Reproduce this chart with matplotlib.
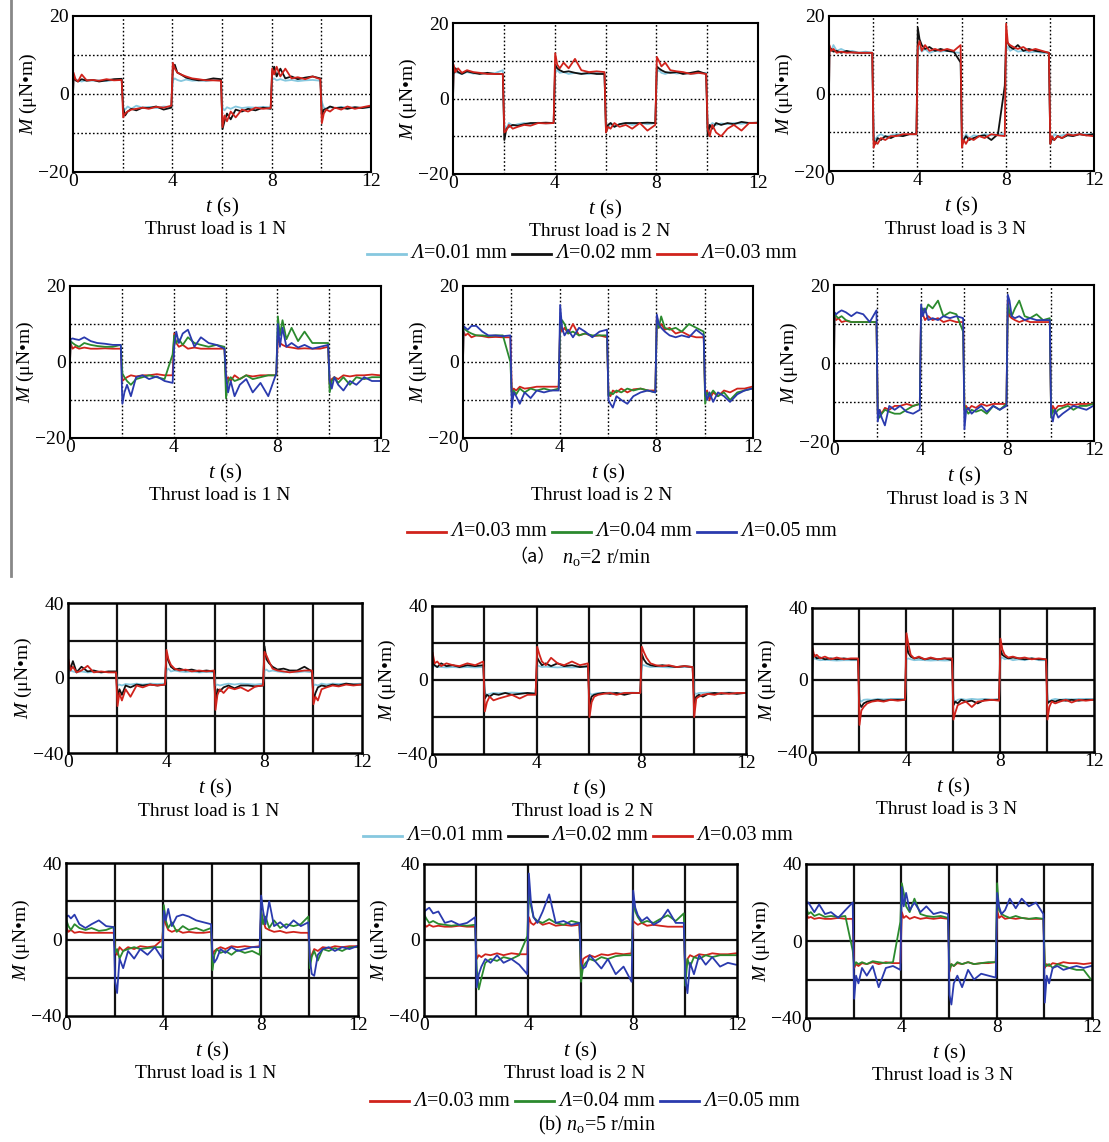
import matplotlib
matplotlib.use("Agg")
import matplotlib.pyplot as plt
from matplotlib.lines import Line2D
from matplotlib.offsetbox import AnchoredOffsetbox, DrawingArea, HPacker, TextArea

plt.rcParams["font.family"] = ["Liberation Serif", "Noto Sans CJK SC", "DejaVu Sans"]
plt.rcParams["mathtext.fontset"] = "custom"
plt.rcParams["mathtext.rm"] = "Liberation Serif"
plt.rcParams["mathtext.it"] = "Liberation Serif:italic"

W, H = 1109, 1142

# sample times inside each 2 s half-period of the square wave
OFFSETS = [0.02, 0.1, 0.2, 0.35, 0.55, 0.8, 1.05, 1.35, 1.65, 1.96]
T = [2 * k + o for k in range(6) for o in OFFSETS]

X_TICKS = [0, 4, 8, 12]
X_GRID = [2, 4, 6, 8, 10]
TOP_Y_TICKS = [-20, 0, 20]
TOP_Y_GRID = [-10, 0, 10]
BOT_Y_TICKS = [-40, 0, 40]
BOT_Y_GRID = [-20, 0, 20]
LOADS = ["Thrust load is 1 N", "Thrust load is 2 N", "Thrust load is 3 N"]
GAPS_TOP = ["0.01", "0.02", "0.03"]
GAPS_LOW = ["0.03", "0.04", "0.05"]

# ---- (a) n_o = 2 r/min, row 1: gaps 0.01 / 0.02 / 0.03 mm ----
R1P1_L01 = [3.5, 3.8, 3.5, 3.2, 3.6, 3.4, 3.5, 3.3, 3.6, 3.9,
            -3.5, -4.0, -3.2, -3.8, -3.0, -3.5, -3.3, -3.6, -3.2, -3.4,
            3.5, 4.0, 3.6, 3.3, 3.7, 3.4, 3.5, 3.3, 3.6, 3.5,
            -3.5, -4.2, -3.4, -3.8, -3.2, -3.6, -3.4, -3.5, -3.3, -3.4,
            3.6, 4.0, 3.5, 3.8, 3.4, 3.6, 3.3, 3.5, 3.6, 3.4,
            -2.0, -3.5, -3.8, -3.4, -3.6, -3.3, -3.5, -3.4, -3.6, -3.4]
R1P1_L02 = [4.5, 3.5, 3.2, 3.8, 3.4, 3.6, 3.2, 3.5, 3.8, 3.9,
            -3.5, -5.5, -4.5, -3.8, -4.2, -3.5, -3.6, -3.2, -4.0, -3.5,
            6.5, 7.5, 5.5, 5.0, 4.2, 3.8, 3.5, 3.6, 4.0, 3.8,
            -9.0, -7.0, -5.0, -6.5, -4.0, -4.5, -3.8, -4.2, -3.5, -3.8,
            5.5, 7.0, 4.5, 6.5, 4.0, 4.5, 3.8, 4.2, 4.5, 4.0,
            -5.5, -4.0, -3.8, -3.2, -3.6, -3.5, -3.8, -3.4, -3.6, -3.3]
R1P1_L03 = [5.5, 3.8, 3.2, 5.0, 3.5, 3.6, 3.4, 3.8, 3.5, 3.6,
            -6.0, -5.0, -4.5, -4.0, -3.8, -3.5, -3.8, -3.3, -3.5, -3.0,
            8.0, 6.5, 5.5, 5.0, 4.5, 4.0, 3.8, 3.5, 3.5, 3.4,
            -8.5, -5.5, -7.0, -4.5, -6.0, -4.0, -4.5, -3.5, -3.8, -3.6,
            6.5, 5.0, 7.0, 4.5, 6.5, 4.0, 4.3, 3.8, 4.5, 3.8,
            -7.5, -5.0, -4.0, -4.5, -3.5, -4.0, -3.2, -3.8, -3.4, -3.0]

R1P2_L01 = [6.5, 7.0, 6.8, 6.5, 7.0, 6.6, 6.8, 6.5, 6.7, 7.5,
            -7.0, -8.0, -6.5, -7.2, -6.8, -6.5, -6.8, -6.4, -6.6, -6.5,
            7.0, 7.5, 6.8, 7.0, 6.5, 6.8, 6.6, 6.5, 6.8, 6.5,
            -7.0, -8.0, -6.5, -7.5, -6.8, -6.5, -7.0, -6.5, -6.8, -6.5,
            7.0, 7.5, 6.8, 6.5, 7.0, 6.6, 6.8, 6.5, 6.7, 6.8,
            -7.0, -7.5, -6.5, -7.0, -6.6, -6.8, -6.5, -6.7, -6.4, -6.5]
R1P2_L02 = [6.5, 8.0, 7.0, 6.5, 7.2, 6.8, 6.5, 6.8, 6.5, 6.5,
            -11.0, -8.0, -7.5, -7.0, -7.2, -6.8, -6.5, -6.5, -6.4, -6.5,
            9.0, 8.0, 7.5, 7.0, 7.2, 6.8, 6.5, 6.8, 6.5, 6.5,
            -9.0, -7.0, -6.5, -7.5, -6.8, -6.5, -6.5, -6.5, -6.4, -6.5,
            8.5, 8.0, 7.5, 7.0, 6.8, 7.0, 6.5, 6.8, 7.2, 6.5,
            -10.0, -7.0, -8.0, -6.5, -7.0, -6.5, -6.8, -6.2, -6.5, -6.4]
R1P2_L03 = [9.0, 7.0, 8.0, 6.8, 7.5, 7.0, 6.8, 6.5, 6.5, 6.5,
            -9.0, -8.5, -7.0, -8.0, -7.5, -7.0, -7.2, -6.5, -6.6, -6.5,
            12.0, 9.0, 8.0, 9.5, 8.0, 10.5, 7.5, 7.0, 7.2, 7.0,
            -9.0, -7.5, -8.0, -6.5, -7.5, -7.0, -8.0, -6.5, -8.5, -7.0,
            11.0, 10.0, 8.5, 9.5, 7.5, 7.2, 7.0, 6.5, 6.8, 6.5,
            -8.0, -10.0, -7.0, -9.0, -10.0, -8.0, -7.0, -8.5, -6.5, -6.5]

R1P3_L01 = [12.0, 11.0, 12.5, 11.0, 11.5, 10.8, 11.0, 10.5, 10.8, 10.5,
            -11.0, -12.0, -11.0, -10.5, -11.2, -10.8, -10.5, -10.6, -10.5, -10.5,
            11.0, 12.0, 10.8, 11.5, 10.5, 11.0, 10.8, 11.0, 10.6, 10.5,
            -11.0, -12.0, -10.5, -11.5, -10.8, -11.0, -10.5, -10.8, -10.5, -10.5,
            11.5, 12.0, 11.0, 11.5, 10.8, 11.0, 10.6, 10.8, 10.5, 10.5,
            -11.0, -12.0, -10.5, -11.0, -10.8, -10.5, -10.6, -10.5, -10.5, -10.5]
R1P3_L02 = [11.0, 11.5, 10.8, 11.0, 10.5, 11.0, 10.6, 10.5, 10.5, 10.5,
            -12.0, -13.0, -11.5, -12.0, -11.0, -11.5, -10.8, -11.0, -10.5, -10.5,
            17.0, 14.0, 12.5, 11.5, 12.0, 11.0, 11.5, 11.0, 10.8, 8.0,
            -13.0, -12.0, -11.0, -12.0, -11.5, -11.0, -10.8, -12.0, -10.5, 2.0,
            14.0, 13.0, 12.0, 11.5, 12.5, 11.0, 11.5, 11.0, 10.8, 10.5,
            -13.0, -11.5, -12.0, -11.0, -11.5, -10.8, -11.0, -10.5, -10.8, -10.5]
R1P3_L03 = [12.5, 11.0, 11.5, 10.5, 10.8, 10.5, 10.6, 10.5, 10.5, 10.5,
            -14.0, -12.5, -13.0, -11.5, -12.0, -11.0, -11.0, -10.5, -10.5, -10.5,
            12.0, 13.5, 11.0, 12.5, 11.0, 11.5, 11.0, 11.5, 11.0, 12.5,
            -14.0, -12.0, -13.0, -11.5, -12.0, -11.0, -11.5, -10.5, -10.8, -11.0,
            18.0, 13.0, 12.5, 12.0, 11.5, 12.0, 11.0, 11.5, 11.0, 10.5,
            -13.0, -11.0, -12.0, -11.0, -11.5, -10.5, -10.8, -10.5, -10.8, -11.0]

# ---- (a) row 2: gaps 0.03 / 0.04 / 0.05 mm ----
R2P1_L03 = [5.0, 3.5, 4.0, 3.5, 3.8, 3.5, 3.5, 3.6, 3.5, 3.5,
            -5.0, -4.5, -4.0, -3.5, -3.8, -3.5, -3.5, -3.2, -3.5, -3.5,
            7.5, 5.0, 4.0, 4.5, 3.5, 3.8, 3.5, 3.5, 3.5, 3.5,
            -5.0, -4.0, -5.0, -3.5, -4.5, -3.5, -3.8, -3.5, -3.5, -3.5,
            6.0, 5.0, 4.5, 4.0, 3.8, 3.5, 3.6, 3.5, 3.5, 4.0,
            -6.0, -4.5, -4.0, -4.5, -3.5, -3.8, -3.5, -3.5, -3.3, -3.5]
R2P1_L04 = [5.5, 5.0, 4.5, 4.0, 5.0, 4.5, 4.2, 4.0, 4.0, 4.5,
            -3.0, -4.0, -5.0, -6.0, -4.5, -4.0, -3.5, -4.0, -4.5, 2.0,
            7.0, 5.0, 6.0, 4.5, 6.5, 5.0, 4.5, 4.0, 4.5, 4.0,
            -9.5, -5.0, -4.0, -5.0, -4.5, -3.5, -4.5, -4.0, -3.5, -3.5,
            12.0, 7.0, 11.0, 6.0, 9.0, 5.5, 8.0, 5.0, 5.0, 5.0,
            -8.0, -5.0, -4.0, -5.5, -4.0, -6.0, -4.0, -4.5, -4.0, -4.0]
R2P1_L05 = [6.0, 6.2, 6.0, 5.8, 6.5, 5.5, 5.0, 4.8, 4.5, 4.5,
            -11.0, -8.0, -6.0, -9.0, -4.0, -3.5, -4.5, -3.8, -5.0, -5.5,
            4.0, 8.0, 5.0, 7.5, 8.5, 4.0, 6.5, 5.0, 4.5, 3.5,
            -3.5, -8.0, -5.0, -9.0, -6.0, -4.5, -8.0, -5.5, -9.0, -3.0,
            10.0, 4.0, 9.0, 4.0, 5.0, 3.8, 4.5, 3.5, 4.0, 4.5,
            -5.0, -7.0, -4.0, -6.0, -7.5, -5.0, -6.0, -4.0, -5.0, -5.0]

R2P2_L03 = [8.0, 7.0, 7.5, 6.5, 7.0, 6.8, 6.5, 6.6, 6.5, 6.5,
            -8.0, -7.0, -7.5, -6.5, -7.0, -6.8, -6.5, -6.5, -6.5, -6.5,
            10.0, 8.0, 9.0, 7.5, 10.0, 7.0, 7.5, 6.8, 7.0, 6.5,
            -8.5, -9.0, -7.5, -8.0, -7.0, -8.0, -7.2, -7.0, -7.5, -7.5,
            12.0, 9.0, 10.0, 8.5, 9.0, 7.5, 8.0, 7.0, 6.5, 6.5,
            -9.0, -7.5, -10.0, -8.0, -9.0, -7.5, -8.0, -7.0, -7.0, -6.5]
R2P2_L04 = [9.0, 8.5, 8.0, 7.5, 7.0, 7.0, 6.8, 7.0, 7.0, 0.0,
            -9.0, -7.5, -8.5, -7.0, -8.0, -7.0, -7.5, -7.0, -7.5, -7.0,
            9.0, 11.0, 10.0, 7.5, 8.0, 7.0, 7.5, 7.0, 7.0, 7.0,
            -9.0, -8.0, -8.5, -7.5, -8.0, -7.0, -7.5, -7.0, -7.5, -8.0,
            11.0, 9.0, 12.0, 9.0, 8.5, 9.0, 8.0, 10.0, 9.0, 8.0,
            -11.0, -8.0, -9.0, -7.5, -9.0, -8.0, -10.0, -8.0, -7.5, -7.0]
R2P2_L05 = [9.5, 9.0, 8.5, 9.5, 9.5, 8.0, 7.0, 7.0, 6.8, 7.0,
            -12.0, -8.0, -9.0, -11.0, -8.0, -9.5, -7.5, -8.0, -7.5, -7.5,
            15.0, 9.0, 7.0, 8.5, 6.5, 9.0, 8.0, 6.5, 8.0, 8.5,
            -10.0, -11.0, -12.0, -9.0, -10.0, -11.0, -9.0, -8.0, -7.5, -8.0,
            12.5, 10.0, 9.0, 8.0, 7.0, 6.5, 7.0, 6.5, 8.5, 7.0,
            -8.0, -10.0, -8.0, -10.5, -8.0, -9.0, -10.5, -8.5, -7.5, -7.0]

R2P3_L03 = [12.0, 11.0, 11.5, 10.5, 10.8, 10.5, 10.5, 10.5, 10.5, 10.5,
            -13.0, -12.0, -13.0, -11.5, -12.0, -11.0, -11.0, -10.5, -11.0, -10.5,
            14.0, 12.5, 11.0, 12.0, 11.0, 11.5, 10.5, 11.0, 10.5, 10.5,
            -12.0, -11.0, -12.0, -11.0, -11.5, -10.5, -11.0, -10.5, -10.5, -10.5,
            16.0, 12.0, 11.5, 11.0, 10.5, 11.0, 10.5, 10.5, 10.5, 10.5,
            -13.0, -11.0, -12.0, -11.0, -11.0, -10.5, -10.8, -10.5, -10.5, -10.5]
R2P3_L04 = [13.0, 12.0, 11.5, 12.0, 11.0, 10.5, 10.5, 10.5, 10.5, 10.5,
            -13.0, -14.0, -13.0, -12.0, -12.5, -13.0, -13.0, -12.0, -11.0, -10.5,
            12.0, 14.0, 13.0, 15.0, 14.0, 16.0, 12.0, 13.0, 12.5, 8.0,
            -11.0, -12.0, -13.0, -12.0, -12.5, -12.0, -13.0, -11.0, -12.0, -10.5,
            15.0, 13.0, 12.0, 14.0, 16.0, 12.0, 11.5, 12.5, 11.0, 11.5,
            -14.0, -12.0, -13.0, -12.0, -11.5, -11.0, -12.0, -11.0, -11.0, -10.5]
R2P3_L05 = [13.0, 12.5, 13.0, 13.5, 13.0, 12.0, 13.0, 12.5, 10.5, 13.5,
            -15.0, -12.0, -14.0, -16.0, -11.0, -12.0, -11.0, -12.5, -13.0, -12.0,
            15.0, 12.0, 14.0, 11.0, 11.5, 11.0, 12.0, 11.5, 12.0, 11.5,
            -17.0, -12.0, -11.5, -13.0, -12.0, -11.0, -12.5, -11.0, -12.0, -11.0,
            17.5, 16.0, 12.0, 11.5, 12.0, 11.0, 11.5, 11.0, 11.0, 11.0,
            -13.0, -15.0, -12.0, -14.0, -13.0, -12.0, -11.0, -11.5, -12.0, -11.0]

# ---- (b) n_o = 5 r/min, row 3: gaps 0.01 / 0.02 / 0.03 mm ----
R3P1_L01 = [3.0, 4.0, 3.5, 3.0, 3.5, 3.0, 3.2, 3.0, 3.3, 3.0,
            -4.0, -3.5, -4.0, -3.2, -3.5, -3.0, -3.5, -3.0, -3.2, -3.0,
            4.0, 5.0, 3.5, 4.0, 3.5, 3.2, 3.5, 3.0, 3.2, 3.0,
            -4.0, -3.5, -4.0, -3.5, -3.0, -3.5, -3.0, -3.2, -3.5, -3.0,
            4.0, 4.5, 3.5, 4.0, 3.5, 3.0, 3.2, 3.0, 3.5, 3.0,
            -4.0, -3.5, -4.0, -3.0, -3.5, -3.0, -3.2, -3.0, -3.3, -3.0]
R3P1_L02 = [8.0, 5.0, 9.0, 3.0, 6.0, 3.5, 4.0, 3.0, 3.5, 3.5,
            -10.0, -6.0, -9.0, -4.0, -5.0, -3.5, -4.0, -3.5, -4.0, -3.5,
            13.0, 9.0, 6.0, 4.5, 5.0, 4.0, 4.5, 3.5, 4.0, 3.5,
            -14.0, -6.0, -7.0, -5.0, -4.0, -5.5, -4.0, -4.0, -4.5, -4.0,
            17.0, 10.0, 8.0, 6.0, 4.5, 5.0, 4.0, 4.0, 6.0, 3.5,
            -12.0, -8.0, -5.0, -4.0, -4.5, -3.5, -4.0, -3.0, -3.5, -3.5]
R3P1_L03 = [10.0, 4.0, 6.0, 3.0, 4.0, 6.5, 3.0, 3.5, 3.0, 3.0,
            -15.0, -8.0, -12.0, -6.0, -10.0, -4.0, -5.0, -3.5, -4.0, -3.5,
            15.0, 10.0, 7.0, 5.0, 4.0, 4.5, 3.5, 4.0, 3.5, 4.0,
            -17.0, -9.0, -6.0, -8.0, -5.0, -6.0, -5.0, -7.0, -4.5, -4.0,
            14.0, 12.0, 9.0, 5.0, 4.0, 3.5, 3.0, 3.5, 4.0, 4.0,
            -14.0, -10.0, -12.0, -6.0, -5.0, -4.0, -4.5, -3.5, -4.0, -3.5]

R3P2_L01 = [7.0, 7.5, 7.0, 7.0, 6.8, 7.0, 6.8, 7.0, 6.8, 7.0,
            -7.0, -8.0, -7.5, -7.0, -7.2, -7.0, -6.8, -7.0, -7.0, -7.0,
            8.0, 7.5, 7.0, 7.2, 7.0, 6.8, 7.0, 6.8, 7.0, 7.0,
            -7.0, -8.0, -7.5, -7.0, -7.0, -6.8, -7.0, -7.0, -6.8, -7.0,
            8.0, 8.0, 7.5, 7.0, 7.2, 7.0, 6.8, 7.0, 7.0, 7.0,
            -7.0, -7.5, -7.0, -7.0, -6.8, -7.0, -7.0, -6.8, -7.0, -7.0]
R3P2_L02 = [10.0, 8.0, 7.0, 9.0, 7.5, 8.0, 7.0, 8.0, 7.5, 8.0,
            -10.0, -8.0, -9.0, -7.5, -8.0, -7.0, -8.0, -7.5, -7.0, -7.5,
            12.0, 10.0, 8.0, 9.0, 7.5, 9.0, 7.5, 8.0, 7.0, 7.5,
            -14.0, -9.0, -8.0, -7.5, -7.0, -7.5, -7.0, -8.0, -7.0, -7.0,
            14.0, 11.0, 9.0, 8.0, 7.5, 8.0, 7.5, 7.0, 7.5, 7.0,
            -12.0, -9.0, -8.0, -9.0, -7.5, -7.0, -7.5, -7.0, -7.5, -7.0]
R3P2_L03 = [15.0, 9.0, 10.0, 7.5, 9.0, 8.0, 7.5, 9.0, 8.0, 10.0,
            -17.0, -12.0, -9.0, -11.0, -10.0, -9.0, -8.0, -10.0, -8.0, -8.0,
            18.0, 14.0, 10.0, 8.0, 12.0, 9.0, 8.0, 10.0, 8.0, 9.0,
            -20.0, -12.0, -9.0, -8.0, -7.5, -7.0, -8.0, -7.0, -7.0, -7.0,
            18.0, 15.0, 12.0, 9.0, 8.0, 7.5, 8.0, 7.0, 7.5, 7.0,
            -20.0, -10.0, -9.0, -8.0, -7.5, -8.0, -7.0, -7.5, -7.0, -7.0]

R3P3_L01 = [11.0, 12.0, 11.5, 11.0, 11.2, 11.0, 10.8, 11.0, 11.0, 11.0,
            -11.0, -12.0, -11.0, -10.8, -11.0, -10.5, -10.8, -10.5, -10.5, -10.5,
            11.5, 12.0, 11.5, 11.0, 11.2, 11.0, 10.8, 11.0, 10.8, 11.0,
            -11.0, -12.0, -11.0, -10.5, -11.0, -10.5, -10.8, -10.5, -11.0, -10.5,
            12.0, 12.5, 11.5, 12.0, 11.0, 11.5, 11.0, 12.0, 11.0, 11.0,
            -11.0, -12.0, -11.0, -10.5, -11.0, -10.5, -10.8, -10.5, -10.5, -10.5]
R3P3_L02 = [12.0, 14.0, 12.0, 12.5, 11.5, 12.0, 11.5, 12.0, 11.5, 11.5,
            -13.0, -15.0, -13.0, -12.0, -11.5, -11.0, -11.5, -11.0, -11.0, -11.0,
            20.0, 15.0, 13.0, 12.0, 12.5, 11.5, 12.0, 11.5, 12.0, 11.0,
            -14.0, -12.0, -13.0, -11.0, -12.0, -11.5, -13.0, -11.0, -11.0, -11.0,
            17.0, 14.0, 13.0, 12.0, 12.5, 12.0, 11.5, 12.0, 11.5, 11.5,
            -13.0, -12.0, -11.5, -12.0, -11.0, -11.5, -11.0, -11.5, -11.0, -11.0]
R3P3_L03 = [18.0, 13.0, 14.0, 12.0, 13.0, 11.5, 12.5, 11.5, 12.0, 12.0,
            -25.0, -17.0, -15.0, -13.0, -12.0, -11.5, -12.0, -11.0, -11.5, -11.0,
            26.0, 20.0, 14.0, 12.0, 13.0, 11.5, 12.5, 11.5, 12.0, 12.0,
            -22.0, -18.0, -14.0, -13.0, -12.0, -15.0, -12.0, -11.5, -11.0, -11.5,
            23.0, 17.0, 14.0, 12.5, 13.0, 12.0, 12.5, 11.5, 12.0, 11.5,
            -22.0, -15.0, -12.0, -13.0, -12.0, -11.0, -12.5, -11.0, -11.5, -11.0]

# ---- (b) row 4: gaps 0.03 / 0.04 / 0.05 mm ----
R4P1_L03 = [6.0, 4.0, 5.0, 3.5, 4.0, 3.5, 3.5, 3.5, 3.5, 3.5,
            -6.0, -8.0, -4.0, -6.0, -4.0, -5.0, -3.5, -4.0, -3.5, 0.0,
            12.0, 8.0, 5.0, 4.0, 5.0, 3.5, 4.0, 3.5, 3.5, 4.0,
            -8.0, -6.0, -5.0, -4.0, -5.0, -3.5, -4.0, -3.5, -4.0, -3.5,
            14.0, 10.0, 6.0, 5.0, 4.0, 4.5, 3.5, 4.0, 3.5, 3.5,
            -12.0, -8.0, -5.0, -6.0, -4.0, -4.5, -3.5, -4.0, -3.5, -3.5]
R4P1_L04 = [10.0, 7.0, 5.0, 8.0, 6.0, 5.0, 6.0, 4.5, 5.0, 6.5,
            -7.0, -5.0, -10.0, -6.0, -5.0, -4.0, -5.0, -4.5, -4.0, -4.0,
            18.0, 10.0, 6.0, 9.0, 4.0, 7.0, 5.0, 6.0, 4.5, 6.0,
            -16.0, -8.0, -5.0, -7.0, -6.0, -8.0, -5.5, -7.0, -6.0, -8.0,
            15.0, 8.0, 12.0, 6.0, 10.0, 6.0, 8.0, 7.0, 8.0, 12.0,
            -15.0, -9.0, -6.0, -11.0, -5.0, -6.0, -4.5, -6.0, -4.0, -4.0]
R4P1_L05 = [12.0, 12.5, 11.0, 13.0, 8.0, 6.0, 8.0, 10.0, 7.0, 6.5,
            -22.0, -28.0, -10.0, -15.0, -6.0, -10.0, -5.0, -8.0, -4.0, -10.0,
            15.0, 10.0, 16.0, 7.0, 12.0, 13.0, 12.0, 10.0, 9.0, 8.0,
            -8.0, -12.0, -10.0, -5.0, -7.0, -4.0, -6.0, -5.0, -4.0, -4.0,
            23.0, 15.0, 8.0, 20.0, 7.0, 9.0, 6.0, 10.0, 7.0, 9.0,
            -10.0, -18.0, -19.0, -8.0, -5.0, -4.0, -6.0, -4.0, -5.0, -3.5]

R4P2_L03 = [8.0, 7.0, 8.0, 7.0, 7.5, 7.0, 7.0, 7.5, 7.0, 7.0,
            -10.0, -8.0, -9.0, -7.5, -8.0, -7.0, -8.0, -7.0, -7.5, -7.5,
            12.0, 9.0, 8.0, 10.0, 8.0, 9.0, 7.5, 8.0, 7.5, 8.0,
            -20.0, -10.0, -9.0, -8.0, -9.0, -7.5, -8.0, -7.0, -7.5, -7.0,
            10.0, 9.0, 8.0, 9.0, 7.5, 8.0, 7.5, 7.0, 7.0, 7.0,
            -18.0, -10.0, -8.0, -9.0, -7.5, -8.0, -7.0, -7.5, -7.5, -7.0]
R4P2_L04 = [13.0, 11.0, 9.0, 10.0, 8.5, 8.0, 7.5, 8.0, 7.5, 8.0,
            -15.0, -26.0, -20.0, -12.0, -10.0, -11.0, -9.0, -10.0, -8.0, 2.0,
            24.0, 18.0, 12.0, 10.0, 9.0, 11.0, 9.0, 8.0, 10.0, 9.0,
            -22.0, -14.0, -12.0, -10.0, -11.0, -9.0, -10.0, -8.5, -8.0, -8.0,
            20.0, 15.0, 12.0, 9.0, 10.0, 9.0, 11.0, 13.0, 10.0, 14.0,
            -24.0, -10.0, -14.0, -9.0, -10.0, -8.0, -9.0, -8.0, -8.0, -8.0]
R4P2_L05 = [15.0, 16.0, 17.0, 14.0, 15.0, 9.0, 10.0, 8.0, 9.0, 12.0,
            -25.0, -18.0, -14.0, -10.0, -12.0, -8.0, -12.0, -10.0, -13.0, -18.0,
            35.0, 20.0, 12.0, 9.0, 15.0, 24.0, 9.0, 10.0, 8.0, 9.0,
            -12.0, -15.0, -14.0, -8.0, -11.0, -15.0, -10.0, -18.0, -14.0, -22.0,
            26.0, 17.0, 13.0, 10.0, 12.0, 8.0, 10.0, 16.0, 9.0, 9.0,
            -20.0, -28.0, -12.0, -18.0, -8.0, -13.0, -9.0, -14.0, -12.0, -13.0]

R4P3_L03 = [14.0, 12.0, 12.5, 11.5, 12.0, 11.5, 11.5, 12.0, 11.5, 11.5,
            -14.0, -12.0, -13.0, -11.5, -12.0, -11.0, -12.0, -11.0, -11.5, -11.5,
            15.0, 12.0, 13.0, 11.5, 12.5, 11.5, 12.0, 11.5, 12.0, 11.5,
            -16.0, -12.0, -13.0, -11.5, -12.0, -11.0, -12.0, -11.5, -11.5, -11.0,
            16.0, 12.0, 13.0, 11.5, 12.0, 11.5, 12.0, 11.5, 11.5, 11.5,
            -14.0, -12.0, -13.0, -11.5, -12.0, -11.0, -11.5, -11.5, -12.0, -11.5]
R4P3_L04 = [17.0, 14.0, 15.0, 13.0, 14.0, 12.5, 13.0, 12.5, 13.0, -5.0,
            -13.0, -11.0, -12.0, -11.0, -12.0, -10.5, -11.0, -11.5, -11.0, 10.0,
            30.0, 25.0, 18.0, 15.0, 22.0, 14.0, 13.0, 12.5, 13.0, 12.0,
            -15.0, -12.0, -13.0, -11.0, -12.0, -11.0, -12.0, -11.5, -11.0, -11.0,
            30.0, 16.0, 14.0, 13.0, 12.0, 13.0, 12.0, 11.5, 12.0, 11.5,
            -12.0, -13.0, -12.0, -14.0, -12.0, -13.0, -14.0, -15.0, -15.0, -20.0]
R4P3_L05 = [20.0, 20.0, 18.0, 15.0, 19.0, 14.0, 15.0, 12.0, 16.0, 20.0,
            -30.0, -18.0, -22.0, -14.0, -18.0, -13.0, -24.0, -14.0, -13.0, -15.0,
            28.0, 18.0, 25.0, 16.0, 20.0, 15.0, 18.0, 14.0, 15.0, 14.0,
            -28.0, -33.0, -22.0, -18.0, -24.0, -15.0, -20.0, -17.0, -18.0, -19.0,
            25.0, 18.0, 14.0, 16.0, 22.0, 17.0, 22.0, 18.0, 20.0, 14.0,
            -32.0, -18.0, -22.0, -14.0, -13.0, -15.0, -14.0, -13.0, -14.0, -13.0]

C01, C02, C03 = "#86c8df", "#111111", "#d0231c"
C04, C05 = "#2b8a2e", "#2a3aae"

fig = plt.figure(figsize=(W / 100, H / 100), dpi=100)


def rect(l, t, r, b):
    return [l / W, 1 - b / H, (r - l) / W, (b - t) / H]


def panel(box, series, colors, top_half, load):
    ax = fig.add_axes(rect(*box))
    for vals, c in zip(series, colors):
        ax.plot([0] + T, [0] + vals, color=c, lw=1.3)
    ax.set_xlim(0, 12)
    if top_half:
        ax.set_ylim(-20, 20)
        ax.set_yticks(TOP_Y_TICKS)
        for g in X_GRID:
            ax.axvline(g, color="k", lw=1.0, ls=(0, (1.2, 1.6)), zorder=0)
        for g in TOP_Y_GRID:
            ax.axhline(g, color="k", lw=1.0, ls=(0, (1.2, 1.6)), zorder=0)
        sw = 1.5
    else:
        ax.set_ylim(-40, 40)
        ax.set_yticks(BOT_Y_TICKS)
        for g in X_GRID:
            ax.axvline(g, color="#111111", lw=1.6, zorder=0)
        for g in BOT_Y_GRID:
            ax.axhline(g, color="#111111", lw=1.6, zorder=0)
        sw = 1.8
    ax.set_xticks(X_TICKS)
    for s in ax.spines.values():
        s.set_linewidth(sw)
    ax.tick_params(direction="in", length=0, labelsize=14)
    ax.tick_params(axis="x", pad=1)
    ax.tick_params(axis="y", pad=3)
    l, t, r, b = box
    ax.set_ylabel("$M$ (μN•m)", fontsize=14)
    ax.yaxis.set_label_coords(-34 / (r - l), 0.5)
    cx = (l + r) / 2 / W
    fig.text(cx, 1 - (b + 35) / H, "$t$ (s)", ha="center", va="center", fontsize=15)
    fig.text(cx - 6 / W, 1 - (b + 58) / H, load, ha="center", va="center", fontsize=14)
    return ax


def legend(gaps, colors, cx, cy):
    entries = []
    for g, c in zip(gaps, colors):
        da = DrawingArea(28, 10)
        da.add_artist(Line2D([0, 28], [5, 5], color=c, lw=2.0))
        label = HPacker(children=[
            TextArea("Λ", textprops=dict(style="italic", size=14.5)),
            TextArea("=" + g + " mm", textprops=dict(size=14.5))], pad=0, sep=0, align="baseline")
        entries.append(HPacker(children=[da, label], pad=0, sep=4, align="center"))
    box = HPacker(children=entries, align="center", pad=0, sep=4)
    fig.add_artist(AnchoredOffsetbox(loc="center", child=box, pad=0, borderpad=0, frameon=False,
                                     bbox_to_anchor=(cx / W, 1 - cy / H),
                                     bbox_transform=fig.transFigure))


TOP_COLORS = [C01, C02, C03]
LOW_COLORS = [C03, C04, C05]

panel((73, 16, 371, 172), [R1P1_L01, R1P1_L02, R1P1_L03], TOP_COLORS, True, LOADS[0])
panel((453, 23, 758, 174), [R1P2_L01, R1P2_L02, R1P2_L03], TOP_COLORS, True, LOADS[1])
panel((829, 16, 1094, 171), [R1P3_L01, R1P3_L02, R1P3_L03], TOP_COLORS, True, LOADS[2])
panel((70, 286, 381, 438), [R2P1_L03, R2P1_L04, R2P1_L05], LOW_COLORS, True, LOADS[0])
panel((463, 286, 753, 438), [R2P2_L03, R2P2_L04, R2P2_L05], LOW_COLORS, True, LOADS[1])
panel((834, 285, 1094, 441), [R2P3_L03, R2P3_L04, R2P3_L05], LOW_COLORS, True, LOADS[2])
panel((68, 603, 362, 753), [R3P1_L01, R3P1_L02, R3P1_L03], TOP_COLORS, False, LOADS[0])
panel((432, 606, 746, 754), [R3P2_L01, R3P2_L02, R3P2_L03], TOP_COLORS, False, LOADS[1])
panel((812, 608, 1094, 752), [R3P3_L01, R3P3_L02, R3P3_L03], TOP_COLORS, False, LOADS[2])
panel((66, 863, 358, 1016), [R4P1_L03, R4P1_L04, R4P1_L05], LOW_COLORS, False, LOADS[0])
panel((424, 864, 737, 1016), [R4P2_L03, R4P2_L04, R4P2_L05], LOW_COLORS, False, LOADS[1])
panel((806, 864, 1092, 1018), [R4P3_L03, R4P3_L04, R4P3_L05], LOW_COLORS, False, LOADS[2])

legend(GAPS_TOP, TOP_COLORS, 582, 254)
legend(GAPS_LOW, LOW_COLORS, 622, 532)
legend(GAPS_TOP, TOP_COLORS, 578, 836)
legend(GAPS_LOW, LOW_COLORS, 585, 1101)

fig.text(556 / W, 1 - 557 / H, "（a）", ha="right", va="center", fontsize=13,
         family=["Noto Sans CJK SC", "DejaVu Sans"])
fig.text(562 / W, 1 - 557 / H, "$n_\\mathrm{o}$=2 r/min", ha="left", va="center", fontsize=14.5)
fig.text(597 / W, 1 - 1125 / H, "(b) $n_\\mathrm{o}$=5 r/min", ha="center", va="center", fontsize=14.5)

fig.add_artist(Line2D([11 / W, 11 / W], [1, 1 - 576 / H], color="#888888", lw=2))

fig.savefig("out.png", dpi=100)
